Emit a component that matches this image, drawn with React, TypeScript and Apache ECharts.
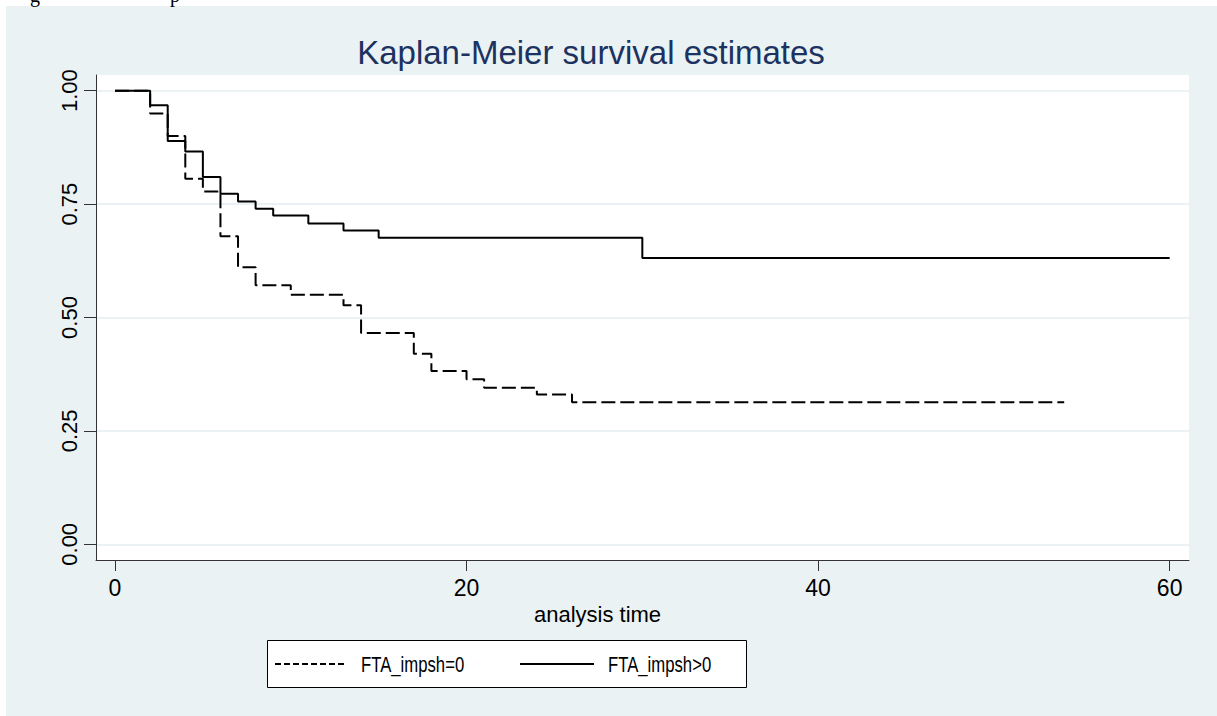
import React, { useEffect, useRef } from "react";
import * as echarts from "echarts";

// ---- data ----
const titleText = "Kaplan-Meier survival estimates";
const xAxisTitle = "analysis time";
const groupNames = ["FTA_impsh=0", "FTA_impsh>0"];
const timesImpsh0 = [0, 2, 3, 4, 5, 6, 7, 8, 10, 13, 14, 17, 18, 20, 21, 24, 26, 54];
const survImpsh0 = [1.0, 0.95, 0.9, 0.806, 0.778, 0.679, 0.611, 0.571, 0.55, 0.527, 0.466, 0.42, 0.382, 0.364, 0.345, 0.33, 0.313, 0.313];
const timesImpshPos = [0, 2, 3, 4, 5, 6, 7, 8, 9, 11, 13, 15, 30, 60];
const survImpshPos = [1.0, 0.968, 0.889, 0.866, 0.81, 0.773, 0.756, 0.74, 0.725, 0.707, 0.692, 0.676, 0.631, 0.631];
const xTicks = [0, 20, 40, 60];
const yTicks = [0, 0.25, 0.5, 0.75, 1];

const BG = "#eaf2f3";

export default function App() {
  const ref = useRef<HTMLDivElement>(null);
  useEffect(() => {
    if (!ref.current) return;
    const chart = echarts.init(ref.current, null, { renderer: "svg" });
    const font = "'Liberation Sans', Arial, sans-serif";
    const option: any = {
      animation: false,
      backgroundColor: "#ffffff",
      title: {
        text: titleText,
        left: 586,
        top: 31,
        textAlign: "center",
        textStyle: { fontFamily: font, fontSize: 33, fontWeight: "normal", color: "#1c3260" },
      },
      grid: {
        left: 96,
        right: 28,
        top: 75,
        bottom: 156,
        show: true,
        backgroundColor: "#ffffff",
        borderWidth: 0,
        containLabel: false,
      },
      xAxis: {
        type: "value",
        min: -1.08,
        max: 61.1,
        name: xAxisTitle,
        nameLocation: "middle",
        nameGap: 40,
        nameTextStyle: { fontFamily: font, fontSize: 22, color: "#000", padding: [0, 90, 0, 0] },
        axisLine: { show: true, onZero: false, lineStyle: { color: "#333", width: 1 } },
        axisTick: { show: true, inside: false, length: 11, customValues: xTicks, lineStyle: { color: "#333" } },
        axisLabel: { customValues: xTicks, margin: 16, fontFamily: font, fontSize: 23, color: "#000", formatter: (v: number) => String(v) },
        splitLine: { show: false },
      },
      yAxis: {
        type: "value",
        min: -0.0346,
        max: 1.0346,
        axisLine: { show: true, onZero: false, lineStyle: { color: "#333", width: 1 } },
        axisTick: { show: true, inside: false, length: 12, customValues: yTicks, lineStyle: { color: "#333" } },
        axisLabel: {
          customValues: yTicks,
          rotate: 90,
          margin: 16,
          fontFamily: font,
          fontSize: 22,
          color: "#000",
          formatter: (v: number) => v.toFixed(2),
        },
        splitLine: { show: true, lineStyle: { color: "#e4eef0", width: 1.5 } },
      },
      series: [
        {
          name: groupNames[0],
          type: "line",
          step: "end",
          showSymbol: false,
          symbol: "none",
          lineStyle: { color: "#000", width: 2, type: [14, 5] },
          data: timesImpsh0.map((t, i) => [t, survImpsh0[i]]),
          z: 3,
        },
        {
          name: groupNames[1],
          type: "line",
          step: "end",
          showSymbol: false,
          symbol: "none",
          lineStyle: { color: "#000", width: 2, type: "solid" },
          data: timesImpshPos.map((t, i) => [t, survImpshPos[i]]),
          z: 3,
        },
      ],
      graphic: [
        {
          type: "rect",
          left: 6,
          top: 6,
          z: -10,
          silent: true,
          shape: { x: 0, y: 0, width: 1211, height: 710 },
          style: { fill: BG },
        },
        {
          type: "text",
          x: 30,
          y: 5,
          z: 5,
          style: { text: "g", font: "20px 'Liberation Serif', serif", fill: "#000", verticalAlign: "bottom" },
        },
        {
          type: "text",
          x: 170,
          y: 5,
          z: 5,
          style: { text: "p", font: "20px 'Liberation Serif', serif", fill: "#000", verticalAlign: "bottom" },
        },
        {
          type: "group",
          left: 267,
          top: 640,
          z: 5,
          children: [
            {
              type: "rect",
              shape: { x: 0.5, y: 0.5, width: 479, height: 47 },
              style: { fill: "#ffffff", stroke: "#000", lineWidth: 1 },
            },
            {
              type: "line",
              shape: { x1: 8, y1: 24, x2: 80, y2: 24 },
              style: { stroke: "#000", lineWidth: 2, lineDash: [6, 3] },
            },
            {
              type: "text",
              x: 94,
              y: 24,
              scaleX: 0.76,
              style: { text: groupNames[0], font: `22px ${font}`, fill: "#000", verticalAlign: "middle" },
            },
            {
              type: "line",
              shape: { x1: 253, y1: 24, x2: 327, y2: 24 },
              style: { stroke: "#000", lineWidth: 2 },
            },
            {
              type: "text",
              x: 341,
              y: 24,
              scaleX: 0.76,
              style: { text: groupNames[1], font: `22px ${font}`, fill: "#000", verticalAlign: "middle" },
            },
          ],
        },
      ],
    };
    chart.setOption(option);
    return () => chart.dispose();
  }, []);
  return (
    <div
      ref={ref}
      style={{ position: "fixed", left: 0, top: 0, width: 1217, height: 716, background: "#fff" }}
    />
  );
}
